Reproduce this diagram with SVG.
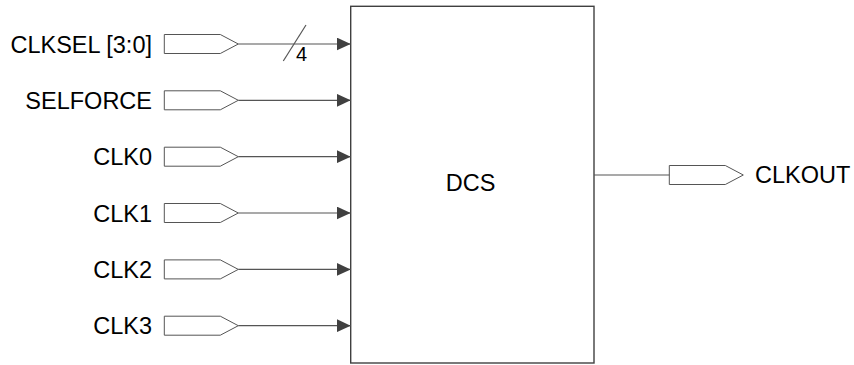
<svg xmlns="http://www.w3.org/2000/svg" width="854" height="365" viewBox="0 0 854 365">
<defs>
<style>
.lbl{font-family:"Liberation Sans",Arial,sans-serif;font-size:23.5px;fill:#000}
.port{fill:#fff;stroke:#555;stroke-width:1}
.wire{stroke:#555;stroke-width:1.2;fill:none}
.box{fill:#fff;stroke:#404040;stroke-width:1.4}
</style>
<marker id="arr" viewBox="0 0 14 13" refX="14" refY="6.5" markerWidth="14" markerHeight="13" markerUnits="userSpaceOnUse" orient="auto">
<path d="M0,0 L14,6.5 L0,13 Z" fill="#404040"/>
</marker>
<path id="pin" d="M0,-9.5 H56 L74,0 L56,9.5 H0 Z"/>
</defs>
<rect width="854" height="365" fill="#fff"/>
<g id="DCS">
<rect class="box" x="350.7" y="6.3" width="243.3" height="356.7"/>
<text class="lbl" x="470.5" y="191" text-anchor="middle">DCS</text>
</g>
<g id="in_CLKSEL">
<use href="#pin" class="port" x="164.3" y="44"/>
<text class="lbl" x="152" y="52.5" text-anchor="end">CLKSEL [3:0]</text>
</g>
<g id="in_SELFORCE">
<use href="#pin" class="port" x="164.3" y="100.3"/>
<text class="lbl" x="152" y="108.8" text-anchor="end">SELFORCE</text>
</g>
<g id="in_CLK0">
<use href="#pin" class="port" x="164.3" y="156.7"/>
<text class="lbl" x="152" y="165.2" text-anchor="end">CLK0</text>
</g>
<g id="in_CLK1">
<use href="#pin" class="port" x="164.3" y="213"/>
<text class="lbl" x="152" y="221.5" text-anchor="end">CLK1</text>
</g>
<g id="in_CLK2">
<use href="#pin" class="port" x="164.3" y="269.4"/>
<text class="lbl" x="152" y="277.9" text-anchor="end">CLK2</text>
</g>
<g id="in_CLK3">
<use href="#pin" class="port" x="164.3" y="325.7"/>
<text class="lbl" x="152" y="334.2" text-anchor="end">CLK3</text>
</g>
<g id="out_CLKOUT">
<use href="#pin" class="port" x="669.3" y="175"/>
<text class="lbl" x="755" y="183.2">CLKOUT</text>
</g>
<g id="connectors">
<line class="wire" x1="238.3" y1="44" x2="350.7" y2="44" marker-end="url(#arr)"/>
<line class="wire" x1="283.3" y1="61" x2="306" y2="25"/>
<text class="lbl" x="296" y="61" style="font-size:20px">4</text>
<line class="wire" x1="238.3" y1="100.3" x2="350.7" y2="100.3" marker-end="url(#arr)"/>
<line class="wire" x1="238.3" y1="156.7" x2="350.7" y2="156.7" marker-end="url(#arr)"/>
<line class="wire" x1="238.3" y1="213" x2="350.7" y2="213" marker-end="url(#arr)"/>
<line class="wire" x1="238.3" y1="269.4" x2="350.7" y2="269.4" marker-end="url(#arr)"/>
<line class="wire" x1="238.3" y1="325.7" x2="350.7" y2="325.7" marker-end="url(#arr)"/>
<line class="wire" x1="594" y1="175" x2="669.3" y2="175"/>
</g>
</svg>
